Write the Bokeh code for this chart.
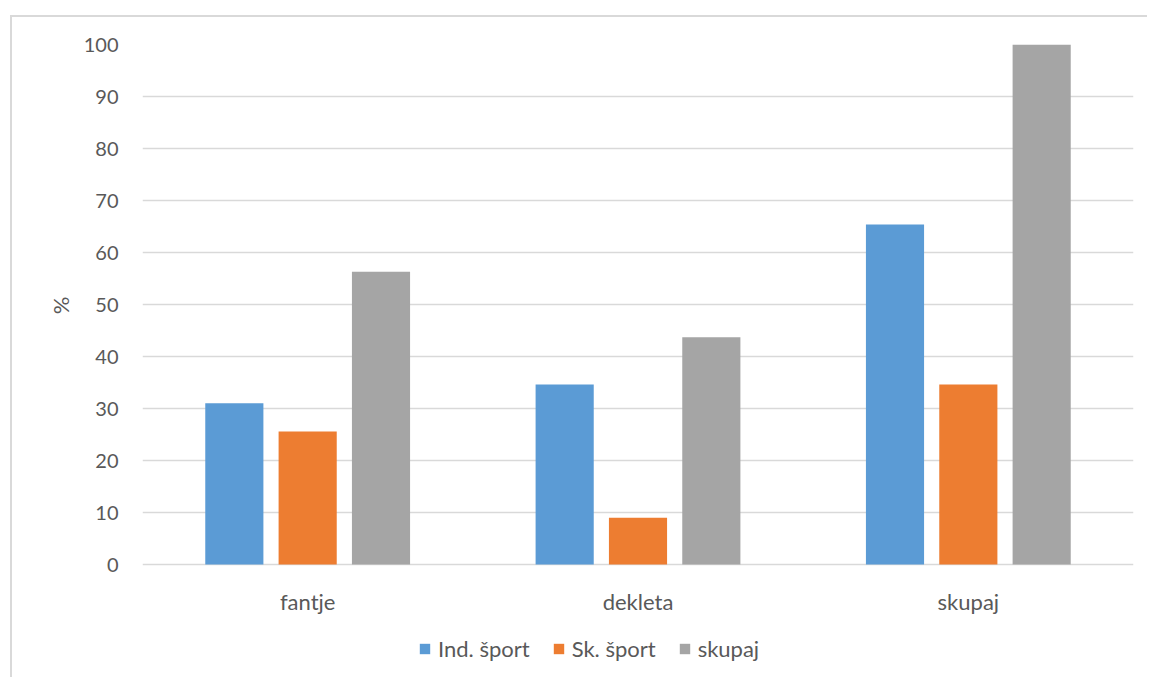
from bokeh.plotting import figure
from bokeh.models import ColumnDataSource, Range1d, FactorRange, Legend, LegendItem, FixedTicker, Title
from bokeh.core.properties import value
from bokeh.transform import dodge
from bokeh.embed import file_html
from bokeh.resources import INLINE

categories = ["fantje", "dekleta", "skupaj"]
ind_sport = [31.0, 34.6, 65.4]
sk_sport = [25.6, 9.0, 34.6]
skupaj = [56.3, 43.7, 100.0]
series_names = ["Ind. šport", "Sk. šport", "skupaj"]
colors = ["#5B9BD5", "#ED7D31", "#A5A5A5"]
y_ticks = [0, 10, 20, 30, 40, 50, 60, 70, 80, 90, 100]

FONT = "Lato"
TXT = "#595959"
GRID = "#D9D9D9"

src = ColumnDataSource(dict(cat=categories, ind=ind_sport, sk=sk_sport, sku=skupaj))

# figure placed at (12, 17) in the window due to css margin + border
# frame extends down to the bottom so that category labels and legend live inside it
p = figure(width=1137, height=662, output_backend="svg", toolbar_location=None,
           x_range=FactorRange(factors=categories, range_padding=0),
           y_range=Range1d(-115 / 5.2, 100),
           min_border_left=130, min_border_right=16, min_border_top=27, min_border_bottom=0)
p.styles = {"margin-left": "10px", "margin-top": "15px",
            "border-left": "2px solid #D9D9D9", "border-top": "2px solid #D9D9D9"}
p.outline_line_color = None
p.background_fill_color = "white"
p.border_fill_color = "white"

renderers = []
for field, off, col in zip(["ind", "sk", "sku"], [-0.222, 0.0, 0.222], colors):
    r = p.vbar(x=dodge("cat", off, range=p.x_range), top=field, bottom=0, width=0.176, source=src,
               fill_color=col, line_color=None)
    renderers.append(r)

p.xgrid.grid_line_color = None
p.ygrid.grid_line_color = GRID
p.ygrid.grid_line_width = 1.3
p.yaxis.ticker = FixedTicker(ticks=y_ticks)

p.yaxis.axis_line_color = None
p.yaxis.major_tick_line_color = None
p.yaxis.minor_tick_line_color = None
p.yaxis.major_label_text_font = FONT
p.yaxis.major_label_text_font_size = "20px"
p.yaxis.major_label_text_color = TXT
p.yaxis.major_label_standoff = 18

p.xaxis.visible = False

# category labels
p.text(x="cat", y=-37 / 5.2, text="cat", source=src, text_align="center", text_baseline="alphabetic",
       text_font=value(FONT), text_font_size="22px", text_color=TXT)

# y axis title
ytitle = Title(text="%", align="right", offset=252, vertical_align="middle", standoff=11,
               text_font=FONT, text_font_size="22px", text_font_style="normal", text_color=TXT)
p.add_layout(ytitle, "left")

legend = Legend(items=[LegendItem(label=n, renderers=[r]) for n, r in zip(series_names, renderers)],
                orientation="horizontal", location=(276, 17),
                label_text_font=FONT, label_text_font_size="22px", label_text_color=TXT,
                glyph_width=13, glyph_height=13, label_standoff=7, spacing=22,
                padding=0, margin=0, border_line_color=None, background_fill_alpha=0,
                label_height=20)
p.add_layout(legend, "center")

open("out.html", "w").write(file_html(p, INLINE))
